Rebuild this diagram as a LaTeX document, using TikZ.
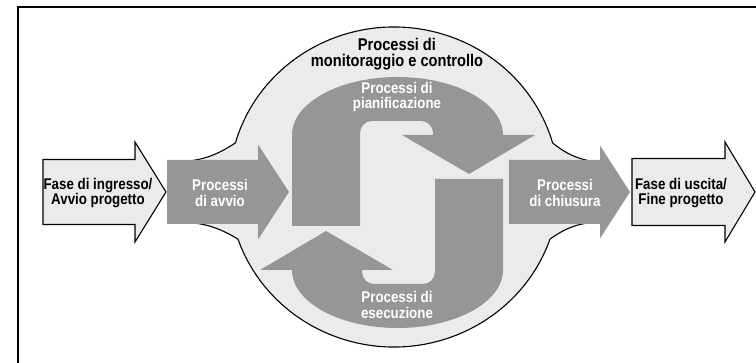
\documentclass[tikz,border=0pt]{standalone}
\usepackage{fontspec}
\setmainfont{Liberation Sans}
\newfontfamily\narrowsans[FakeStretch=0.86]{Liberation Sans}
\definecolor{procgray}{RGB}{150,150,150}
\definecolor{palegray}{RGB}{235,235,235}

\begin{document}
\begin{tikzpicture}[
    x=1pt, y=1pt,
    phase/.style={draw, line width=1.1pt, fill=palegray},
    monitor/.style={draw, line width=1.1pt, fill=palegray},
    process/.style={fill=procgray},
    dark/.style={text=white, align=center, font=\narrowsans\bfseries\fontsize{15.5}{15.5}\selectfont},
    light/.style={text=black, align=center, font=\narrowsans\bfseries\fontsize{15.5}{15.5}\selectfont}
]
    \useasboundingbox (0,0) rectangle (756,363);
    % Frame
    \draw[line width=1.6pt] (18,-20) rectangle (780,356);

    % Monitoring area
    \draw[monitor] (178,201) to[bend right=15] (235.4,220.1)
        arc[start angle=164, end angle=16, x radius=165, y radius=160]
        to[bend right=15] (596,201) -- (596,141)
        to[bend right=15] (550,123.9)
        arc[start angle=-19, end angle=-161, x radius=165, y radius=160]
        to[bend right=15] (178,141) -- cycle;

    % Planning and execution loops
    \fill[process] (292,137) -- (292,228)
        arc[start angle=180, end angle=0, x radius=105.5, y radius=58]
        -- (535,228) -- (469,189) -- (402,228) -- (433,228) -- (433,230)
        arc[start angle=0, end angle=90, radius=12] -- (372,242)
        arc[start angle=90, end angle=180, radius=12] -- (360,137) -- cycle;
    \fill[process, rotate around={180:(397.5,160.5)}] (292,137) -- (292,228)
        arc[start angle=180, end angle=0, x radius=105.5, y radius=58]
        -- (535,228) -- (469,189) -- (402,228) -- (433,228) -- (433,230)
        arc[start angle=0, end angle=90, radius=12] -- (372,242)
        arc[start angle=90, end angle=180, radius=12] -- (360,137) -- cycle;

    % Initiating and closing
    \fill[process] (167,139) -- (258,139) -- (258,123.5) -- (289,171)
        -- (258,218.5) -- (258,203) -- (167,203) -- cycle;
    \fill[process] (509,139) -- (600,139) -- (600,124.5) -- (630,171)
        -- (600,217.5) -- (600,203) -- (509,203) -- cycle;

    % Entry and exit
    \draw[phase] (43,138.5) -- (135,138.5) -- (135,121) -- (166,171)
        -- (135,221) -- (135,203.5) -- (43,203.5) -- cycle;
    \draw[phase] (632,137.5) -- (725,137.5) -- (725,121) -- (755,171)
        -- (725,221) -- (725,204.5) -- (632,204.5) -- cycle;

    % Labels
    \node[light, font=\narrowsans\bfseries\fontsize{17}{16}\selectfont] (monitoring) at (397,309) {Processi di\\monitoraggio e controllo};
    \node[dark] (planning) at (397,266) {Processi di\\pianificazione};
    \node[dark] (executing) at (397,58) {Processi di\\esecuzione};
    \node[dark] (initiating) at (220,170) {Processi\\di avvio};
    \node[dark] (closing) at (565,170) {Processi\\di chiusura};
    \node[light] (entry) at (98,170) {Fase di ingresso/\\Avvio progetto};
    \node[light] (exit) at (681,170) {Fase di uscita/\\Fine progetto};
\end{tikzpicture}
\end{document}
